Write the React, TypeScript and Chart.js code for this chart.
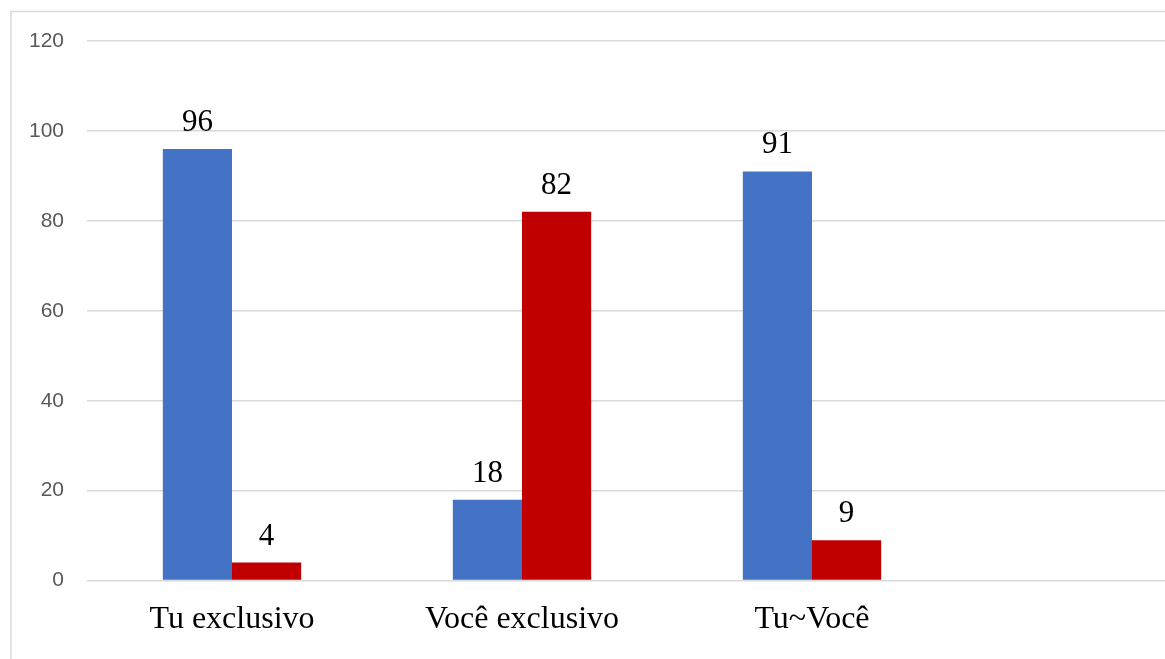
import React, { useEffect, useRef } from "react";
import { Chart, registerables } from "chart.js";

Chart.register(...registerables);

// Categories along the x axis (the last slot is an empty category)
const categories = ["Tu exclusivo", "Você exclusivo", "Tu~Você", ""];
// Values per series
const seriesBlue: (number | null)[] = [96, 18, 91, null];
const seriesRed: (number | null)[] = [4, 82, 9, null];
// Y axis ticks
const yTicks = [0, 20, 40, 60, 80, 100, 120];

const BLUE = "#4472C4";
const RED = "#C00000";
const GRID = "#d9d9d9";

// Draws the value above each bar
const valueLabels = {
  id: "valueLabels",
  afterDatasetsDraw(chart: any) {
    const ctx = chart.ctx;
    ctx.save();
    ctx.font = "31px 'Liberation Serif', 'Times New Roman', serif";
    ctx.fillStyle = "#000000";
    ctx.textAlign = "center";
    ctx.textBaseline = "alphabetic";
    chart.data.datasets.forEach((ds: any, i: number) => {
      const meta = chart.getDatasetMeta(i);
      meta.data.forEach((bar: any, j: number) => {
        const v = ds.data[j];
        if (v == null) return;
        ctx.fillText(String(v), bar.x, bar.y - 18);
      });
    });
    ctx.restore();
  },
};

// Thin outer frame around the chart
const frame = {
  id: "frame",
  beforeDraw(chart: any) {
    const ctx = chart.ctx;
    ctx.save();
    ctx.fillStyle = "#ffffff";
    ctx.fillRect(0, 0, chart.width, chart.height);
    ctx.strokeStyle = GRID;
    ctx.lineWidth = 1.5;
    ctx.strokeRect(11, 11.5, chart.width + 50, chart.height + 50);
    ctx.restore();
  },
};

export default function App() {
  const ref = useRef<HTMLCanvasElement | null>(null);

  useEffect(() => {
    if (!ref.current) return;
    const chart = new Chart(ref.current, {
      type: "bar",
      data: {
        labels: categories,
        datasets: [
          {
            label: "Tu",
            data: seriesBlue,
            backgroundColor: BLUE,
            borderWidth: 0,
            categoryPercentage: 0.477,
            barPercentage: 1,
          },
          {
            label: "Você",
            data: seriesRed,
            backgroundColor: RED,
            borderWidth: 0,
            categoryPercentage: 0.477,
            barPercentage: 1,
          },
        ],
      },
      options: {
        responsive: false,
        animation: false,
        layout: { padding: { top: 41, right: 23, bottom: 0, left: 0 } },
        plugins: {
          legend: { display: false },
          tooltip: { enabled: false },
        },
        scales: {
          x: {
            grid: { display: false, drawTicks: false },
            border: { display: false },
            ticks: {
              color: "#000000",
              font: { family: "'Liberation Serif', 'Times New Roman', serif", size: 32 },
              padding: 20,
              maxRotation: 0,
              autoSkip: false,
            },
          },
          y: {
            min: 0,
            max: 120,
            grid: { color: GRID, lineWidth: 1.5, drawTicks: false },
            border: { display: false },
            afterBuildTicks: (scale: any) => {
              scale.ticks = yTicks.map((v) => ({ value: v }));
            },
            afterFit: (scale: any) => {
              scale.width = 87;
            },
            ticks: {
              color: "#595959",
              font: { family: "'Liberation Sans', Arial, sans-serif", size: 21 },
              padding: 23,
            },
          },
        },
      },
      plugins: [frame, valueLabels],
    });
    return () => chart.destroy();
  }, []);

  return (
    <div
      style={{
        position: "fixed",
        left: 0,
        top: 0,
        width: 1165,
        height: 659,
        overflow: "hidden",
        background: "#ffffff",
      }}
    >
      <canvas ref={ref} width={1270} height={659} style={{ display: "block" }} />
    </div>
  );
}
